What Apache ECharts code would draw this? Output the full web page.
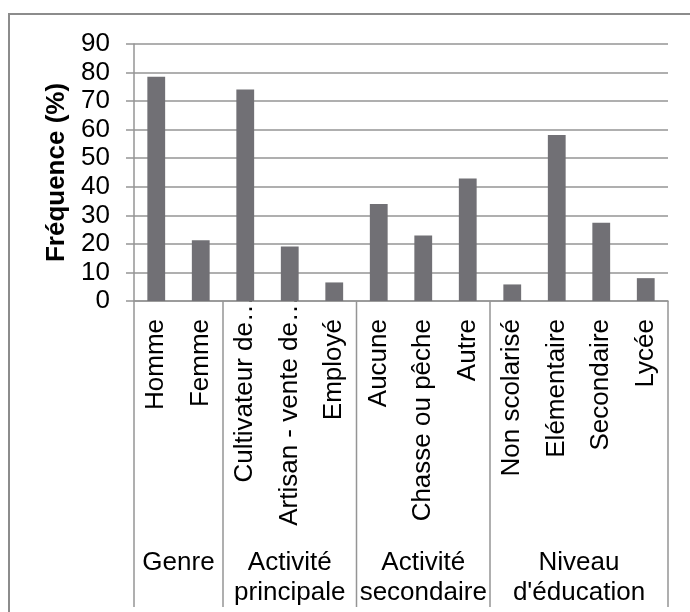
<!DOCTYPE html>
<html>
<head>
<meta charset="utf-8">
<script src="https://cdn.jsdelivr.net/npm/echarts@6/dist/echarts.min.js"></script>
<style>
  html, body { margin: 0; padding: 0; background: #fff; }
  #chart { width: 690px; height: 612px; }
</style>
</head>
<body>
<div id="chart"></div>
<script>
// Survey profile: share of respondents (%) per category
const categories = [
  'Homme', 'Femme',
  'Cultivateur de…', 'Artisan - vente de…', 'Employé',
  'Aucune', 'Chasse ou pêche', 'Autre',
  'Non scolarisé', 'Elémentaire', 'Secondaire', 'Lycée'
];
const frequencies = [78.5, 21.3, 74.1, 19.1, 6.5, 34.0, 22.9, 42.9, 5.8, 58.1, 27.4, 8.0];

// Outer grouping of the categories (name, number of categories in the group)
const groupNames = ['Genre', 'Activité\nprincipale', 'Activité\nsecondaire', "Niveau\nd'éducation"];
const groupSizes = [2, 3, 3, 4];

const yTicks = [0, 10, 20, 30, 40, 50, 60, 70, 80, 90];
const yTitle = 'Fréquence (%)';

const FONT = '"Liberation Sans", Arial, sans-serif';
const LINE = '#959595';
const BAR = '#717075';

const chart = echarts.init(document.getElementById('chart'), null, { renderer: 'canvas' });

chart.setOption({
  animation: false,
  backgroundColor: '#fff',
  grid: { left: 134, right: 22, top: 44, bottom: 311, containLabel: false },
  xAxis: {
    type: 'category',
    data: categories,
    axisLine: { show: true, lineStyle: { color: LINE, width: 1.5 } },
    axisTick: { show: false },
    axisLabel: { show: false },
    splitLine: { show: false }
  },
  yAxis: {
    type: 'value',
    min: yTicks[0],
    max: yTicks[yTicks.length - 1],
    interval: yTicks[1] - yTicks[0],
    name: yTitle,
    nameLocation: 'middle',
    nameGap: 57,
    nameTextStyle: { fontFamily: FONT, fontSize: 26, fontWeight: 'bold', color: '#000' },
    axisLine: { show: true, lineStyle: { color: LINE, width: 1.5 } },
    axisTick: { show: true, inside: false, length: 8, lineStyle: { color: LINE, width: 1.5 } },
    axisLabel: { fontFamily: FONT, fontSize: 26, color: '#000', margin: 24 },
    splitLine: { show: true, lineStyle: { color: LINE, width: 1.5 } }
  },
  series: [{
    type: 'bar',
    data: frequencies,
    barWidth: '40%',
    itemStyle: { color: BAR }
  }]
});

// Category labels, group separators and group names under the axis
function drawAxisDecor() {
  const c0 = chart.convertToPixel({ xAxisIndex: 0 }, categories[0]);
  const c1 = chart.convertToPixel({ xAxisIndex: 0 }, categories[1]);
  const band = c1 - c0;
  const axisY = chart.convertToPixel({ yAxisIndex: 0 }, 0);
  const bottomY = chart.getHeight() - 5;
  const elements = [];

  // outer chart frame
  elements.push({
    type: 'rect', silent: true,
    shape: { x: 9, y: 14, width: chart.getWidth() + 10, height: chart.getHeight() + 10 },
    style: { fill: 'none', stroke: '#8c8c8c', lineWidth: 2 }
  });

  // rotated category names; truncated ones run up past the axis line
  categories.forEach((name) => {
    const cx = chart.convertToPixel({ xAxisIndex: 0 }, name);
    const truncated = name.endsWith('…');
    elements.push({
      type: 'text', silent: true,
      x: cx, y: truncated ? axisY - 5 : axisY + 18,
      rotation: Math.PI / 2,
      style: {
        text: name, fontFamily: FONT, fontSize: 26, fill: '#000',
        align: 'right', verticalAlign: 'middle'
      }
    });
  });

  let start = 0;
  const lineAt = (x) => ({
    type: 'line', silent: true,
    shape: { x1: x, y1: axisY, x2: x, y2: bottomY },
    style: { stroke: LINE, lineWidth: 1.5 }
  });
  elements.push(lineAt(c0 - band / 2));
  groupNames.forEach((g, k) => {
    const end = start + groupSizes[k];
    const left = c0 + (start - 0.5) * band;
    const right = c0 + (end - 0.5) * band;
    elements.push(lineAt(right));
    elements.push({
      type: 'text', silent: true,
      x: (left + right) / 2, y: 548,
      style: {
        text: g, fontFamily: FONT, fontSize: 26, lineHeight: 30, fill: '#000',
        align: 'center', verticalAlign: 'top'
      }
    });
    start = end;
  });

  chart.setOption({ graphic: { elements } });
}

drawAxisDecor();
</script>
</body>
</html>
